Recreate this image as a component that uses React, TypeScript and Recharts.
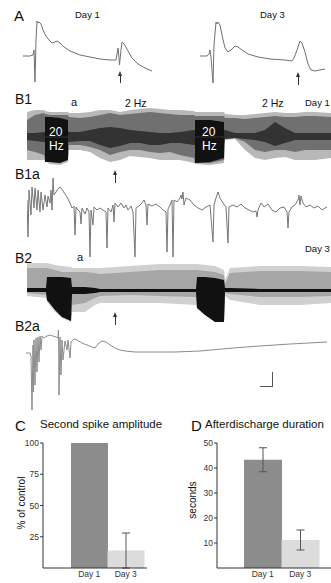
import React from 'react';
import {
  LineChart, Line, AreaChart, Area, XAxis, YAxis, BarChart, Bar, Cell, ErrorBar, ReferenceLine,
} from 'recharts';

const FONT = '"Liberation Sans", Arial, Helvetica, sans-serif';

// ---------- Panel A: single sweeps (time, amplitude rel. to baseline) ----------
const aDay1: [number, number][] = [
  [0, 4], [7, 4], [10, 5], [11, 10], [12, -22], [13, 20], [14, 39], [15, 37], [16, 38], [18, 36],
  [20, 30], [23, 24], [26, 20], [29, 17], [32, 18], [34, 19], [37, 17], [41, 13], [47, 9], [57, 5],
  [67, 3], [77, 1], [87, 0], [93, 0], [94, 6], [95, 12], [96, 2], [96.5, -5], [98, 10], [99, 18],
  [101, 16], [104, 11], [109, 2], [115, -4], [122, -8], [129, -11],
];
const aDay3: [number, number][] = [
  [0, 4], [7, 4], [9, 6], [10, 10], [11, 3], [13, -23], [14, 15], [16, 38], [17, 36], [18, 38],
  [20, 35], [22, 25], [25, 12], [28, 8], [31, 10], [35, 14], [38, 13], [42, 10], [48, 6], [58, 3],
  [70, 1], [85, 0], [92, -1], [94, 2], [97, 10], [100, 19], [102, 17], [105, 8], [108, -4],
  [111, -10], [115, -11], [120, -10], [125, -9],
];

// ---------- B1a / B2a expanded sweeps ----------
const b1aTrace: [number, number][] = [
  [0, 5], [1, -32], [2, 15], [4, -10], [5, 18], [7, -3], [8, 17], [10, -5], [11, 15], [13, -7],
  [14, 13], [16, -5], [18, 10], [20, -2], [21, 9], [23, 2], [24, 15], [25, -5], [26, 27], [27, 10],
  [29, 13], [31, 16], [33, 18], [36, 14], [40, 8], [43, 2], [45, -3], [47, -1], [48, -30], [49, -2],
  [51, -5], [53, -7], [54, -19], [55, -3], [58, -9], [60, -3], [62, -7], [63, -52], [64, -5], [66, -20],
  [67, -2], [70, -5], [73, -3], [76, -5], [79, -7], [80, -43], [81, -3], [84, -7], [86, 0], [87, -17],
  [88, 2], [91, -2], [94, 2], [97, -3], [99, 0], [101, -5], [104, -1], [106, -7], [108, -52], [109, -3],
  [112, -1], [115, 2], [117, 5], [119, 0], [120, -20], [121, 1], [125, -1], [129, 1], [133, -2], [136, -5],
  [139, -7], [140, -47], [141, -4], [143, 0], [145, 5], [146, -52], [147, 5], [150, 3], [153, 7], [154, 10],
  [155, 6], [156, 13], [157, 0], [159, 7], [163, 5], [167, 0], [171, -3], [175, -5], [179, -2], [183, 0],
  [186, -37], [187, 0], [189, 7], [191, 13], [193, 7], [196, 2], [199, -2], [201, -38], [202, -2], [206, 0],
  [210, -2], [214, 1], [218, -3], [222, -5], [226, -7], [229, -6], [230, -12], [231, -5], [234, 2], [237, -2],
  [241, 1], [245, -5], [249, -7], [253, -3], [257, -2], [260, -7], [261, -23], [262, -7], [265, -2], [268, 0],
  [271, 5], [272, 10], [273, 0], [274, 9], [276, 2], [279, -2], [283, 0], [287, -3], [291, -1], [295, -5],
  [298, -3], [300, -2],
];
const b2aTrace: [number, number][] = [
  [0, -1], [4, -1], [5, -4], [6, -58], [7, 7], [7.5, -40], [8, 12], [9, -33], [10, 14], [11, -20],
  [12, 15], [13, -10], [14, 16], [15, 2], [16, 16], [18, 14], [21, 16], [24, 17], [27, 16], [30, 15],
  [32, 14], [32.5, 27], [33, -43], [34, 15], [35, -23], [36, 12], [37, -8], [39, 11], [41, 2], [42, 12],
  [44, -6], [45, 10], [48, 13], [51, 12], [56, 9], [61, 7], [66, 5], [69, 4], [72, 8], [76, 11],
  [80, 10], [84, 7], [89, 4], [94, 2], [99, 1], [109, 0], [127, 0], [149, 0], [174, 1], [207, 4],
  [234, 6], [264, 8], [301, 10],
];

// ---------- B1 / B2 compressed recordings: envelopes [upper, lower] ----------
const b1Time = [0, 8, 17, 18, 23, 33, 41, 42, 53, 63, 73, 83, 93, 103, 113, 123, 133, 143, 153, 167, 168, 183, 197, 198, 208, 218, 228, 238, 248, 258, 268, 278, 288, 304];
const b1Outer: [number, number][] = [
  [25, -23], [27, -23], [27, -23], [26, -24], [25, -27], [25, -28], [25, -25], [24, -13], [24, -13], [25, -15],
  [27, -21], [27, -25], [25, -23], [27, -19], [28, -20], [29, -21], [28, -23], [27, -23], [27, -23], [26, -26],
  [25, -27], [25, -28], [25, -26], [23, -3], [22, -2], [22, -13], [23, -21], [24, -23], [25, -21], [24, -20],
  [24, -23], [25, -23], [25, -23], [24, -21],
];
const b1Mid: [number, number][] = [
  [17, -13], [22, -15], [24, -18], [23, -23], [22, -25], [22, -26], [22, -21], [20, -8], [19, -8], [20, -10],
  [22, -13], [24, -18], [22, -15], [23, -13], [24, -13], [25, -15], [24, -16], [23, -15], [22, -18], [22, -21],
  [21, -26], [21, -26], [21, -23], [19, -2], [19, -1], [18, -5], [19, -13], [20, -15], [21, -13], [20, -13],
  [20, -15], [21, -13], [21, -13], [20, -13],
];
const b1Dark: [number, number][] = [
  [4, -3], [4, -4], [5, -5], [5, -5], [6, -6], [6, -6], [6, -6], [5, -5], [5, -4], [7, -4],
  [9, -8], [10, -11], [9, -9], [7, -6], [6, -6], [5, -8], [4, -8], [4, -6], [5, -6], [7, -8],
  [7, -8], [7, -8], [7, -8], [7, -2], [4, -1], [4, -2], [4, -3], [7, -5], [15, -9], [9, -6],
  [4, -3], [4, -3], [4, -3], [4, -3],
];
const b1Block: ([number, number] | null)[] = [
  null, null, null, [20, -25], [20, -25], [19, -26], [17, -23], null, null, null,
  null, null, null, null, null, null, null, null, null, null,
  [17, -26], [17, -25], [15, -21], null, null, null, null, null, null, null,
  null, null, null, null,
];

const b2Time = [0, 19, 20, 28, 35, 44, 45, 58, 68, 73, 103, 133, 169, 170, 178, 188, 197, 198, 203, 233, 273, 304];
const b2Outer: [number, number][] = [
  [27, -6], [27, -8], [27, -12], [25, -22], [24, -28], [23, -32], [22, -22], [22, -22], [22, -15], [22, -13],
  [24, -13], [26, -13], [26, -15], [26, -18], [25, -25], [24, -32], [20, -32], [10, -6], [22, -10], [24, -15],
  [24, -15], [23, -13],
];
const b2Mid: [number, number][] = [
  [22, -3], [22, -5], [22, -10], [20, -20], [18, -27], [18, -31], [18, -15], [18, -13], [17, -8], [16, -6],
  [18, -5], [20, -6], [20, -7], [20, -17], [19, -24], [18, -31], [15, -31], [6, -3], [17, -4], [19, -7],
  [19, -7], [18, -6],
];
const b2Dark: [number, number][] = [
  [2, -2], [2, -2], [13, -10], [13, -20], [13, -27], [12, -31], [3, -4], [3, -4], [2, -3], [1, -2],
  [1, -2], [1, -2], [1, -2], [13, -18], [13, -25], [12, -32], [10, -32], [2, -2], [2, -2], [1, -2],
  [1, -2], [1, -2],
];

// ---------- C / D bar charts ----------
const barDays = ['Day 1', 'Day 3'];
const ampValues = [100, 14];
const ampErrors = [0, 14];
const durValues = [43.3, 11.2];
const durErrors = [4.8, 4.0];
const ampTicks = [25, 50, 75, 100];
const durTicks = [10, 20, 30, 40, 50];
const barFills = ['#8c8c8c', '#dcdcdc'];

const NOM = { top: 0, right: 0, bottom: 0, left: 0 };

function Trace({ data, left, top, width, height, yMin, yMax, color }: any) {
  const rows = data.map(([t, v]: [number, number]) => ({ t, v }));
  return (
    <div style={{ position: 'absolute', left, top }}>
      <LineChart width={width} height={height} data={rows} margin={NOM}>
        <XAxis hide type="number" dataKey="t" domain={[0, width]} allowDataOverflow />
        <YAxis hide type="number" domain={[yMin, yMax]} allowDataOverflow />
        <Line dataKey="v" type="linear" stroke={color} strokeWidth={1} dot={false} activeDot={false} isAnimationActive={false} />
      </LineChart>
    </div>
  );
}

function Dense({ time, layers, left, top, width, height, yMin, yMax, base }: any) {
  const rows = time.map((t: number, i: number) => {
    const r: any = { t };
    layers.forEach((L: any, k: number) => {
      const p = L.values[i];
      r['l' + k] = p ? [p[1], p[0]] : null;
    });
    return r;
  });
  return (
    <div style={{ position: 'absolute', left, top }}>
      <AreaChart width={width} height={height} data={rows} margin={NOM}>
        <XAxis hide type="number" dataKey="t" domain={[0, width]} allowDataOverflow />
        <YAxis hide type="number" domain={[yMin, yMax]} allowDataOverflow />
        {layers.map((L: any, k: number) => (
          <Area key={k} dataKey={'l' + k} type="linear" stroke="none" fill={L.color} fillOpacity={1}
            dot={false} activeDot={false} connectNulls={false} isAnimationActive={false} />
        ))}
        <ReferenceLine y={0} stroke={base} strokeWidth={1} />
      </AreaChart>
    </div>
  );
}

function BarPanel({ left, top, width, height, values, errors, ticks, yMax, yWidth, padL, padR, mRight }: any) {
  const rows = barDays.map((d, i) => ({ day: d, value: values[i], err: errors[i] }));
  return (
    <div style={{ position: 'absolute', left, top }}>
      <BarChart width={width} height={height} data={rows} margin={{ top: 8, right: mRight, bottom: 0, left: 0 }}
        barCategoryGap={0} barGap={0}>
        <XAxis dataKey="day" type="category" height={15} padding={{ left: padL, right: padR }}
          tickLine={false} tickSize={0} tickMargin={3} interval={0}
          axisLine={{ stroke: '#333' }} tick={{ fontSize: 8.5, fill: '#333' }} />
        <YAxis type="number" domain={[0, yMax]} ticks={ticks} width={yWidth} tickSize={3} tickMargin={1}
          axisLine={{ stroke: '#333' }} tickLine={{ stroke: '#333' }} tick={{ fontSize: 8.5, fill: '#333' }} />
        <Bar dataKey="value" isAnimationActive={false}>
          {rows.map((r, i) => <Cell key={i} fill={barFills[i]} />)}
          <ErrorBar dataKey="err" width={4} stroke="#555" strokeWidth={1} direction="y" />
        </Bar>
      </BarChart>
    </div>
  );
}

function Txt({ x, cy, size, children, color = '#111', lower = false }: any) {
  const topOff = lower ? 0.59 * size : 0.49 * size;
  return (
    <div style={{ position: 'absolute', left: x, top: cy - topOff, fontSize: size, lineHeight: `${size}px`, color, whiteSpace: 'nowrap' }}>
      {children}
    </div>
  );
}

function VTxt({ cx, cy, size, children }: any) {
  return (
    <div style={{ position: 'absolute', left: cx, top: cy, fontSize: size, lineHeight: `${size}px`, color: '#111', whiteSpace: 'nowrap', transform: 'translate(-50%, -50%) rotate(-90deg)' }}>
      {children}
    </div>
  );
}

function Arrow({ x, y1, y2 }: any) {
  return (
    <>
      <div style={{ position: 'absolute', left: x - 2.5, top: y1, width: 0, height: 0, borderLeft: '2.5px solid transparent', borderRight: '2.5px solid transparent', borderBottom: '5px solid #333' }} />
      <div style={{ position: 'absolute', left: x - 0.5, top: y1 + 4, width: 1, height: y2 - y1 - 4, background: '#333' }} />
    </>
  );
}

export default function App() {
  return (
    <div style={{ position: 'absolute', left: 0, top: 0, width: 331, height: 583, background: '#fff', overflow: 'hidden', fontFamily: FONT }}>
      {/* Panel A */}
      <Txt x={14} cy={15} size={15}>A</Txt>
      <Txt x={75} cy={15} size={9.5}>Day 1</Txt>
      <Txt x={260} cy={15} size={9.5}>Day 3</Txt>
      <Trace data={aDay1} left={23} top={15} width={131} height={73} yMin={-28} yMax={45} color="#707070" />
      <Trace data={aDay3} left={200} top={15} width={131} height={73} yMin={-28} yMax={45} color="#707070" />
      <Arrow x={120} y1={71} y2={83} />
      <Arrow x={298} y1={72} y2={85} />

      {/* Panel B1 */}
      <Dense time={b1Time} left={27} top={105} width={304} height={62} yMin={-30} yMax={32} base="#333"
        layers={[
          { values: b1Outer, color: '#b8b8b8' },
          { values: b1Mid, color: '#707070' },
          { values: b1Dark, color: '#333333' },
          { values: b1Block, color: '#111' },
        ]} />
      <Txt x={15} cy={99} size={14}>B1</Txt>
      <Txt x={71} cy={103} size={11} lower>a</Txt>
      <Txt x={125} cy={103} size={10.5}>2 Hz</Txt>
      <Txt x={262} cy={103} size={10.5}>2 Hz</Txt>
      <Txt x={305} cy={103} size={9.5}>Day 1</Txt>
      <Txt x={49} cy={132} size={12} color="#fff">20</Txt>
      <Txt x={49} cy={146} size={12} color="#fff">Hz</Txt>
      <Txt x={202} cy={132} size={12} color="#fff">20</Txt>
      <Txt x={202} cy={146} size={12} color="#fff">Hz</Txt>
      <Arrow x={115} y1={170} y2={183} />

      {/* Panel B1a */}
      <Txt x={15} cy={174} size={14}>B1a</Txt>
      <Trace data={b1aTrace} left={27} top={172} width={304} height={90} yMin={-57} yMax={33} color="#767676" />

      {/* Panel B2 */}
      <Dense time={b2Time} left={27} top={255} width={304} height={70} yMin={-35} yMax={35} base="#111"
        layers={[
          { values: b2Outer, color: '#d0d0d0' },
          { values: b2Mid, color: '#a6a6a6' },
          { values: b2Dark, color: '#111' },
        ]} />
      <Txt x={15} cy={258} size={14}>B2</Txt>
      <Txt x={77} cy={258} size={11} lower>a</Txt>
      <Txt x={305} cy={249} size={9.5}>Day 3</Txt>
      <Arrow x={115} y1={312} y2={325} />

      {/* Panel B2a */}
      <Txt x={15} cy={326} size={14}>B2a</Txt>
      <Trace data={b2aTrace} left={26} top={330} width={305} height={85} yMin={-63} yMax={22} color="#8a8a8a" />
      <div style={{ position: 'absolute', left: 272, top: 372, width: 1, height: 15, background: '#555' }} />
      <div style={{ position: 'absolute', left: 260, top: 386, width: 13, height: 1, background: '#555' }} />

      {/* Panel C */}
      <Txt x={15} cy={425} size={15}>C</Txt>
      <Txt x={40} cy={425} size={11.5}>Second spike amplitude</Txt>
      <BarPanel left={0} top={435} width={150} height={148} values={ampValues} errors={ampErrors}
        ticks={ampTicks} yMax={100} yWidth={43} padL={28} padR={3} mRight={3} />
      <VTxt cx={22} cy={503} size={10}>% of control</VTxt>

      {/* Panel D */}
      <Txt x={191} cy={425} size={15}>D</Txt>
      <Txt x={205} cy={425} size={11.5}>Afterdischarge duration</Txt>
      <BarPanel left={172} top={435} width={159} height={148} values={durValues} errors={durErrors}
        ticks={durTicks} yMax={50} yWidth={45} padL={27} padR={12} mRight={0} />
      <VTxt cx={193} cy={500} size={10}>seconds</VTxt>
    </div>
  );
}
